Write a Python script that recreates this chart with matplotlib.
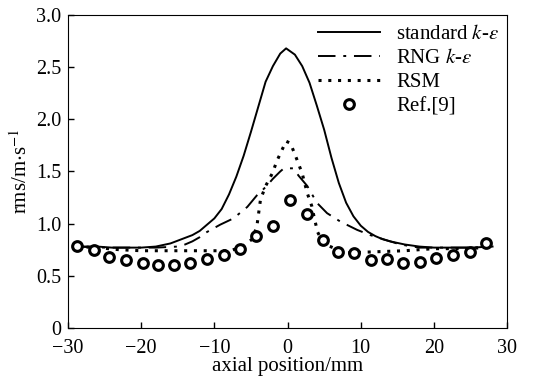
import matplotlib
matplotlib.use('Agg')
import matplotlib.pyplot as plt

plt.rcParams['font.family'] = ['Liberation Serif', 'DejaVu Serif']
plt.rcParams['mathtext.fontset'] = 'stix'
plt.rcParams['font.size'] = 15

# standard k-epsilon
x_std = [-28.8, -26, -24, -22, -20, -18, -16, -14.5, -13, -12, -11, -10, -9, -8, -7, -6, -5, -4, -3, -2, -1, -0.2,
         1, 2, 3, 4, 5, 6, 7, 8, 9, 10, 11, 12, 13, 14, 16, 18, 20, 22, 25, 28]
y_std = [0.78, 0.78, 0.77, 0.77, 0.77, 0.78, 0.81, 0.85, 0.89, 0.93, 0.99, 1.05, 1.14, 1.28, 1.45, 1.65, 1.88, 2.12, 2.36, 2.51, 2.63, 2.68,
         2.62, 2.51, 2.35, 2.13, 1.90, 1.63, 1.39, 1.20, 1.07, 0.98, 0.92, 0.88, 0.85, 0.83, 0.80, 0.78, 0.77, 0.77, 0.77, 0.78]

# RNG k-epsilon
x_rng = [-28.8, -25, -22, -18, -15, -14, -13, -12, -11, -9.2, -7.4, -5.5, -4.2, -3, -2, -1, -0.5, 0.8, 1.5, 2.7, 4, 5.4, 7.2,
         9.5, 11.3, 13.1, 15.4, 18, 22, 26]
y_rng = [0.78, 0.77, 0.77, 0.77, 0.78, 0.80, 0.83, 0.87, 0.92, 0.99, 1.05, 1.16, 1.27, 1.35, 1.43, 1.50, 1.53, 1.53, 1.46, 1.36, 1.20, 1.10, 1.02,
         0.94, 0.89, 0.85, 0.80, 0.77, 0.77, 0.77]

# RSM
x_rsm = [-28.8, -26, -23, -20, -16, -12, -9, -7.8, -6.2, -4.85, -4.2, -3.95, -3.7, -3.0, -2.1, -1.4, -0.2, 0.4, 1.3, 2.0, 2.7,
         3.3, 3.7, 4.1, 4.9, 6.8, 8.1, 12, 16, 20, 24, 27]
y_rsm = [0.78, 0.77, 0.75, 0.74, 0.74, 0.74, 0.74, 0.74, 0.78, 0.85, 0.97, 1.10, 1.23, 1.36, 1.48, 1.61, 1.79, 1.77, 1.61, 1.48, 1.29,
         1.17, 1.04, 0.92, 0.81, 0.75, 0.72, 0.73, 0.74, 0.76, 0.76, 0.77]

# Ref.[9] measurements
x_ref = [-28.8, -26.5, -24.4, -22.1, -19.8, -17.7, -15.5, -13.3, -11.0, -8.7, -6.5, -4.3, -2.0, 0.3, 2.6, 4.8, 6.9, 9.1,
         11.35, 13.6, 15.8, 18.05, 20.3, 22.6, 24.9, 27.1]
y_ref = [0.784, 0.745, 0.68, 0.647, 0.624, 0.608, 0.608, 0.624, 0.657, 0.703, 0.755, 0.88, 0.98, 1.23, 1.09, 0.843, 0.729, 0.722,
         0.647, 0.657, 0.624, 0.63, 0.67, 0.703, 0.729, 0.81]

xticks = [-30, -20, -10, 0, 10, 20, 30]
yticks = [0, 0.5, 1.0, 1.5, 2.0, 2.5, 3.0]
ytick_labels = ['0', '0.5', '1.0', '1.5', '2.0', '2.5', '3.0']

fig = plt.figure(figsize=(5.35, 3.84), dpi=100)
ax = fig.add_axes([0.127, 0.146, 0.821, 0.815])

ax.plot(x_std, y_std, color='black', linewidth=1.4, label='standard $k$-$\\varepsilon$')
ax.plot(x_rng, y_rng, color='black', linewidth=1.4, dashes=(9, 4, 1.5, 4), label='RNG $k$-$\\varepsilon$')
ax.plot(x_rsm, y_rsm, color='black', linewidth=2.2, linestyle=(0, (1, 2.2)), label='RSM')
ax.plot(x_ref, y_ref, linestyle='none', marker='o', markersize=7, markerfacecolor='white',
        markeredgecolor='black', markeredgewidth=2.2, label='Ref.[9]')

ax.set_xlim(-30, 30)
ax.set_ylim(0, 3.0)
ax.set_xticks(xticks)
ax.set_yticks(yticks)
ax.set_yticklabels(ytick_labels)
ax.tick_params(direction='in', length=4, width=1, top=False, right=False, labelsize=14.5)
ax.tick_params(axis='y', pad=5)
ax.tick_params(axis='x', pad=8)
ax.set_xlabel('axial position/mm', labelpad=-1)
ax.set_ylabel('rms/m$\\cdot$s$^{-1}$', labelpad=3)

ax.legend(loc='upper left', bbox_to_anchor=(0.569, 0.97), frameon=False, borderpad=0,
          borderaxespad=0, handlelength=3.0, handletextpad=0.75, labelspacing=0.22)

plt.savefig('out.png', dpi=100)
